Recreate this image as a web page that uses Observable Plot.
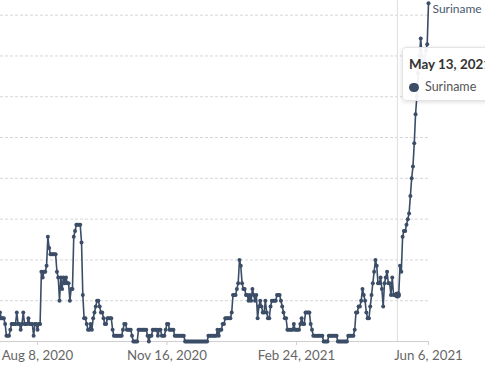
<!DOCTYPE html>
<html>
<head>
<meta charset="utf-8">
<script src="https://cdn.jsdelivr.net/npm/d3@7"></script>
<script src="https://cdn.jsdelivr.net/npm/@observablehq/plot@0.6"></script>
<style>
  html, body { margin: 0; padding: 0; background: #fff; overflow: hidden; }
  #wrap { position: relative; width: 485px; height: 371px; overflow: hidden; font-family: Lato, "Open Sans", sans-serif; }
  #wrap svg { display: block; }
  .tt { position: absolute; left: 402px; top: 47px; width: 120px; height: 54px; box-sizing: border-box;
        background: rgba(255,255,255,0.93); border: 1px solid #e4e4e4; border-radius: 4px;
        box-shadow: 0 1px 4px rgba(0,0,0,0.14); }
  .tt-title { position: absolute; left: 6px; top: 10px; font-size: 13.4px; line-height: 13.4px; font-weight: 700; color: #333; white-space: nowrap; }
  .tt-dot { position: absolute; left: 6.3px; top: 34.5px; width: 9.4px; height: 9.4px; border-radius: 50%; }
  .tt-name { position: absolute; left: 22px; top: 33.2px; font-size: 12.5px; line-height: 12.5px; color: #555; white-space: nowrap; }
</style>
</head>
<body>
<div id="wrap"></div>
<script>
// Entity shown
const entity = "Suriname";
// First day of the daily series (UTC)
const firstDay = [2020, 6, 10];
// Daily values (7-day rolling average), one per day from Jul 10, 2020 to Jun 6, 2021
const values = [
  0.71,
  0.57,0.57,0.57,0.43,0.14,0.14,0.14,0.29,0.43,0.43,
  0.43,0.43,0.71,0.43,0.43,0.29,0.43,0.71,0.43,0.43,
  0.43,0.57,0.43,0.43,0.43,0.14,0.43,0.43,0.29,0.43,
  0.43,1.71,1.57,1.71,1.71,1.86,2.57,2.29,2.14,2.14,
  2.14,2.14,2.14,1.71,1.57,1,1.57,1.29,1.57,1.43,
  1.57,1.43,1.43,1,1.29,1.29,2.57,2.71,2.86,2.86,
  2.86,2.86,2.43,1.14,0.57,0.57,0.43,0.29,0.29,0.43,
  0.29,0.57,0.71,0.86,1,1,0.86,0.71,0.71,0.57,
  0.43,0.43,0.57,0.57,0.57,0.57,0.29,0.14,0.14,0.14,
  0.14,0.14,0.14,0.14,0.29,0.43,0.43,0.29,0.29,0.29,
  0.29,0.14,0,0,0,0,0.29,0.29,0.29,0.29,
  0.29,0.29,0.29,0.14,0,0.14,0.14,0.29,0.29,0.29,
  0.29,0.14,0.29,0.29,0.14,0.14,0.14,0.29,0.43,0.43,
  0.29,0.29,0.29,0.29,0.14,0.14,0.14,0.14,0.14,0.14,
  0.14,0.14,0,0,0,0,0,0,0,0,
  0,0,0,0,0,0,0,0,0,0,
  0.14,0.14,0.14,0.14,0.14,0.14,0.14,0.29,0.14,0.29,
  0.29,0.43,0.43,0.57,0.57,0.57,0.57,0.57,0.71,1.14,
  1.14,1.14,1.29,1.43,2,1.86,1.43,1.29,1.29,1.14,
  1.14,1,1.14,1,1.29,1.14,1,1.14,0.57,0.86,
  1,0.86,0.71,0.71,1,0.71,0.57,0.57,0.86,1,
  1,1,1,1.14,1.14,1.14,1,0.86,0.71,0.57,
  0.57,0.29,0.29,0.29,0.29,0.29,0.43,0.29,0.29,0.29,
  0.29,0.43,0.57,0.43,0.43,0.71,0.71,0.71,0.71,0.43,
  0.29,0.14,0.14,0.14,0.14,0.14,0.14,0.14,0.14,0,
  0,0,0,0.14,0.14,0.14,0.14,0.14,0.14,0.14,
  0,0,0,0,0,0,0,0,0.14,0.14,
  0.14,0.14,0.14,0.29,0.71,0.71,0.86,0.86,1,1.29,
  1.14,1,0.71,0.57,0.57,0.86,1.14,1.43,1.71,2,
  1.86,1.43,1.43,1.57,1.29,0.86,1.43,1.57,1.71,1.43,
  1.43,1.14,1.57,1.14,1.14,1.14,1.14,1.14,1.86,1.71,
  2.57,2.71,2.71,2.86,3,3.14,3.57,4,4.29,4.86,
  5.57,6,6.57,7,7.43,7,6.71,6.86,7.14,7.29,8.29
];
// Gridline values
const yGrid = [1, 2, 3, 4, 5, 6, 7, 8];
// X tick dates and labels
const xTickDates = ["2020-08-08", "2020-11-16", "2021-02-24", "2021-06-06"];
const xTickLabels = ["Aug 8, 2020", "Nov 16, 2020", "Feb 24, 2021", "Jun 6, 2021"];
// Hovered date shown in the tooltip
const hoverDay = "2021-05-13";
const hoverLabel = "May 13, 2021";

const color = "#3b4d67";

const data = values.map((v, i) => ({
  date: new Date(Date.UTC(firstDay[0], firstDay[1], firstDay[2] + i)),
  value: v
}));
const tickDates = xTickDates.map(s => new Date(s + "T00:00:00Z"));
const labelByTime = new Map(tickDates.map((d, i) => [+d, xTickLabels[i]]));
const hoverDate = new Date(hoverDay + "T00:00:00Z");
const hoverPoint = data.filter(d => +d.date === +hoverDate);
const lastPoint = [data[data.length - 1]];

const chart = Plot.plot({
  width: 485,
  height: 371,
  marginLeft: 0,
  marginRight: 57,
  marginTop: 0,
  marginBottom: 30,
  style: { fontFamily: "Lato, 'Open Sans', sans-serif", background: "white", color: "#666" },
  x: { type: "utc", domain: [new Date("2020-07-10T10:00:00Z"), new Date("2021-06-06T00:00:00Z")], label: null },
  y: { domain: [0, 8.36], axis: null },
  marks: [
    Plot.ruleY(yGrid, { stroke: "#d6d6d6", strokeOpacity: 1, strokeDasharray: "3,2" }),
    Plot.ruleY([0], { stroke: "#cfcfcf" }),
    Plot.ruleX([hoverDate], { stroke: "#dedede" }),
    Plot.axisX(tickDates, {
      tickFormat: d => labelByTime.get(+d),
      tickSize: 4,
      tickPadding: 5,
      fontSize: 13.3,
      stroke: "#cfcfcf",
      fill: "#666",
      label: null
    }),
    Plot.lineY(data, { x: "date", y: "value", stroke: color, strokeWidth: 1.6 }),
    Plot.dot(data, { x: "date", y: "value", r: 2, fill: color }),
    Plot.dot(hoverPoint, { x: "date", y: "value", r: 3.4, fill: color }),
    Plot.text(lastPoint, {
      x: "date", y: "value", text: () => entity,
      dx: 4, dy: 6.2, textAnchor: "start", lineAnchor: "middle",
      fill: "#4a5a70", fontSize: 12
    })
  ]
});

const wrap = document.getElementById("wrap");
wrap.appendChild(chart);

const tt = document.createElement("div");
tt.className = "tt";
tt.innerHTML = `<div class="tt-title"></div><div class="tt-dot"></div><div class="tt-name"></div>`;
tt.querySelector(".tt-title").textContent = hoverLabel;
tt.querySelector(".tt-dot").style.background = color;
tt.querySelector(".tt-name").textContent = entity;
wrap.appendChild(tt);
</script>
</body>
</html>
